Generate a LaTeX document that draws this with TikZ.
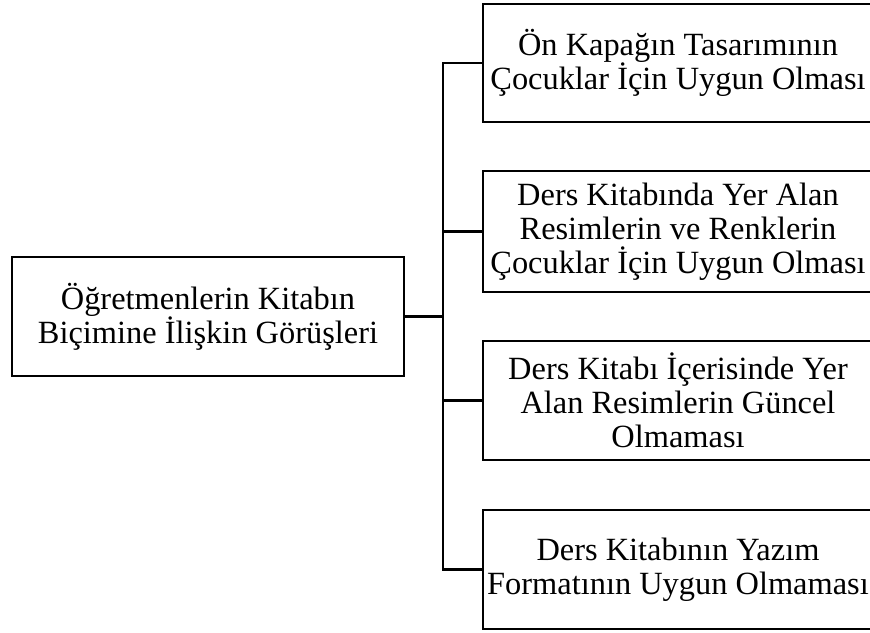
\documentclass[tikz,border=0pt]{standalone}
\usepackage{fontspec}
\setmainfont{Liberation Serif}
\begin{document}
\begin{tikzpicture}[x=1pt,y=1pt,
  box/.style={draw=black,line width=2.6pt,align=center,inner sep=0pt,
    font=\fontsize{32.4}{34}\selectfont},
  conn/.style={draw=black,line width=2.6pt}]
\useasboundingbox (0,0) rectangle (870,632);
\begin{scope}
\clip (0,0) rectangle (870,632);
\node[box,minimum width=392pt,minimum height=119pt] (L) at (208,{632-316.5}) {Öğretmenlerin Kitabın\\Biçimine İlişkin Görüşleri};
\node[box,minimum width=390pt,minimum height=118pt] (b1) at (678,{632-63}) {Ön Kapağın Tasarımının\\Çocuklar İçin Uygun Olması};
\node[box,minimum width=390pt,minimum height=121pt] (b2) at (678,{632-231.5}) {Ders Kitabında Yer Alan\\Resimlerin ve Renklerin\\Çocuklar İçin Uygun Olması};
\node[box,minimum width=390pt,minimum height=119pt] (b3) at (678,{632-400.5}) {Ders Kitabı İçerisinde Yer\\Alan Resimlerin Güncel\\Olmaması};
\node[box,minimum width=390pt,minimum height=119pt] (b4) at (678,{632-569.5}) {Ders Kitabının Yazım\\Formatının Uygun Olmaması};
\coordinate (s) at (443,{632-316.5});
\coordinate (st) at (443,{632-63});
\coordinate (sb) at (443,{632-569.5});
\draw[conn] (L.east) -- (s);
\draw[conn] (b1.west) -- (st) -- (sb) -- (b4.west);
\draw[conn] (s |- b2.west) -- (b2.west);
\draw[conn] (s |- b3.west) -- (b3.west);
\end{scope}
\end{tikzpicture}
\end{document}
